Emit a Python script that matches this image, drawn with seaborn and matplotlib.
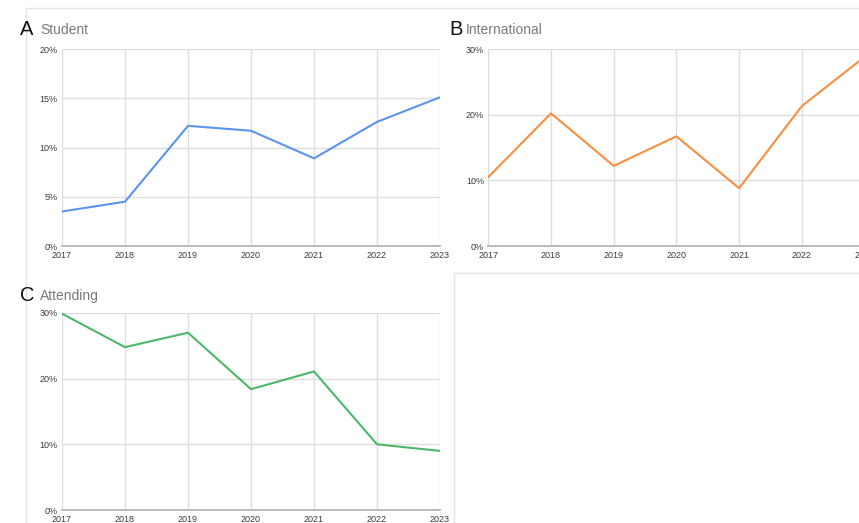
import pandas as pd
import matplotlib.pyplot as plt
import seaborn as sns
from matplotlib.lines import Line2D
from matplotlib.ticker import FuncFormatter

# === DATA ===
years = [2017, 2018, 2019, 2020, 2021, 2022, 2023]
student = [3.5, 4.5, 12.2, 11.7, 8.9, 12.6, 15.1]
international = [10.5, 20.2, 12.2, 16.7, 8.8, 21.3, 28.8]
attending = [29.9, 24.8, 27.0, 18.4, 21.1, 10.0, 9.0]

panels = [
    ("A", "Student", student, "#5b93f0", [0, 5, 10, 15, 20]),
    ("B", "International", international, "#f88f3f", [0, 10, 20, 30]),
    ("C", "Attending", attending, "#4cb76a", [0, 10, 20, 30]),
]

# === STYLE ===
sns.set_style("white")
plt.rcParams["font.family"] = ["Liberation Sans", "DejaVu Sans"]

W, H = 859, 523
fig = plt.figure(figsize=(W / 100, H / 100), dpi=100)

def fx(px):
    return px / W

def fy(py):
    return 1 - py / H

# plot areas in pixels: (left, top, right, bottom)
boxes = [(62, 49, 440, 246), (488.3, 49, 864.5, 246), (62, 313, 440, 510)]
title_pos = [(20, 40, 35), (449, 466, 35), (20, 40, 301)]

for (letter, name, vals, color, yticks), (l, t, r, b), (lx, nx, by) in zip(panels, boxes, title_pos):
    ax = fig.add_axes([fx(l), fy(b), fx(r) - fx(l), fy(t) - fy(b)])
    df = pd.DataFrame({"year": years, "value": vals})
    sns.lineplot(data=df, x="year", y="value", color=color, linewidth=1.5, ax=ax)
    ax.set_xlim(years[0], years[-1])
    ax.set_ylim(yticks[0], yticks[-1])
    ax.set_xticks(years)
    ax.set_yticks(yticks)
    ax.yaxis.set_major_formatter(FuncFormatter(lambda v, p: f"{int(v)}%"))
    ax.grid(True, color="#dedede", linewidth=1.0)
    ax.set_axisbelow(True)
    for s in ["top", "right", "left"]:
        ax.spines[s].set_visible(False)
    ax.spines["bottom"].set_color("#b5b5b5")
    ax.spines["bottom"].set_linewidth(1.3)
    ax.tick_params(axis="both", length=0, labelsize=6.5, labelcolor="#3c3c3c")
    ax.tick_params(axis="y", pad=3)
    ax.tick_params(axis="x", pad=3.5)
    for lab in ax.get_yticklabels():
        lab.set_verticalalignment("center_baseline")
    ax.set_xlabel("")
    ax.set_ylabel("")
    fig.text(fx(lx), fy(by), letter, fontsize=14.5, color="#111111", ha="left", va="baseline")
    fig.text(fx(nx), fy(by - 1), name, fontsize=10, color="#7a7a7a", ha="left", va="baseline")

# faint screenshot borders
frame = dict(color="#e4e4e4", linewidth=1.0, transform=fig.transFigure)
fig.add_artist(Line2D([fx(26), 1], [fy(8), fy(8)], **frame))
fig.add_artist(Line2D([fx(26), fx(26)], [fy(8), 0], **frame))
fig.add_artist(Line2D([fx(454), 1], [fy(273), fy(273)], **frame))
fig.add_artist(Line2D([fx(454), fx(454)], [fy(273), 0], **frame))

fig.savefig("out.png", dpi=100)
